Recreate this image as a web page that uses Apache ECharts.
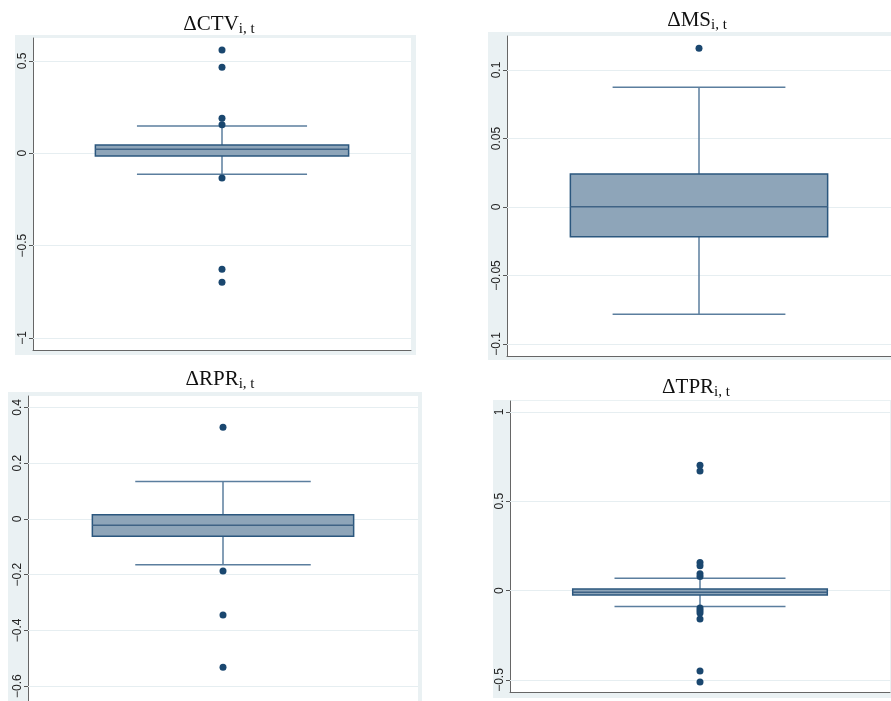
<!DOCTYPE html>
<html>
<head>
<meta charset="utf-8">
<script src="https://cdn.jsdelivr.net/npm/echarts@6/dist/echarts.min.js"></script>
<style>html,body{margin:0;padding:0;background:#fff;}#c{width:891px;height:701px;}</style>
</head>
<body>
<div id="c"></div>
<script>
// ---- data (box = [lower whisker, Q1, median, Q3, upper whisker]) ----
const categories = [''];
const ctvTitle = 'ΔCTV';
const ctvBox = [-0.114, -0.015, 0.022, 0.045, 0.148];
const ctvOut = [0.559, 0.466, 0.19, 0.155, -0.134, -0.628, -0.698];
const ctvTicks = [-1, -0.5, 0, 0.5];

const msTitle = 'ΔMS';
const msBox = [-0.0783, -0.0217, 0.0002, 0.0241, 0.0874];
const msOut = [0.1158];
const msTicks = [-0.1, -0.05, 0, 0.05, 0.1];

const rprTitle = 'ΔRPR';
const rprBox = [-0.164, -0.062, -0.023, 0.015, 0.134];
const rprOut = [0.329, -0.187, -0.345, -0.532];
const rprTicks = [-0.6, -0.4, -0.2, 0, 0.2, 0.4];

const tprTitle = 'ΔTPR';
const tprBox = [-0.088, -0.025, -0.0095, 0.009, 0.069];
const tprOut = [0.702, 0.670, 0.157, 0.140, 0.095, 0.079, -0.097, -0.111, -0.125, -0.159, -0.449, -0.511];
const tprTicks = [-0.5, 0, 0.5, 1];

const subscript = 'i, t';

// ---- layout / style ----
const panels = [
  {title: ctvTitle, box: ctvBox, out: ctvOut, ticks: ctvTicks, min: -1.065, max: 0.624,
   grid: {left: 33, top: 38, width: 378, height: 312}, bg: [15, 35, 401, 320], tx: 219, ty: 12},
  {title: msTitle, box: msBox, out: msOut, ticks: msTicks, min: -0.1088, max: 0.1248,
   grid: {left: 507, top: 36, width: 391, height: 320}, bg: [488, 32, 410, 328], tx: 697, ty: 8},
  {title: rprTitle, box: rprBox, out: rprOut, ticks: rprTicks, min: -0.653, max: 0.441,
   grid: {left: 28, top: 396, width: 390, height: 310}, bg: [8, 392, 414, 320], tx: 220, ty: 367},
  {title: tprTitle, box: tprBox, out: tprOut, ticks: tprTicks, min: -0.567, max: 1.061,
   grid: {left: 510, top: 401, width: 380, height: 291}, bg: [493, 400, 400, 298], tx: 696, ty: 375}
];

const BOX_W = 0.67, WHISK_W = 0.45;
const NAVY = '#1a476f', BOXFILL = '#8ea5b9', BOXLINE = '#2b577e', WHISK = '#5b7e9e', MED = '#3f6385';

function fmt(v) { return String(v).replace('-', '\u2212'); }

function boxRender(params, api) {
  const lo = api.value(1), q1 = api.value(2), md = api.value(3), q3 = api.value(4), hi = api.value(5);
  const band = api.size([1, 0])[0];
  const c = api.coord([0, md]);
  const x = c[0];
  const yQ1 = api.coord([0, q1])[1], yQ3 = api.coord([0, q3])[1];
  const yLo = api.coord([0, lo])[1], yHi = api.coord([0, hi])[1];
  const bh = band * BOX_W / 2, wh = band * WHISK_W / 2;
  const ws = {stroke: WHISK, lineWidth: 1.5};
  return {type: 'group', children: [
    {type: 'line', shape: {x1: x, y1: yHi, x2: x, y2: yQ3}, style: ws},
    {type: 'line', shape: {x1: x, y1: yQ1, x2: x, y2: yLo}, style: ws},
    {type: 'line', shape: {x1: x - wh, y1: yHi, x2: x + wh, y2: yHi}, style: ws},
    {type: 'line', shape: {x1: x - wh, y1: yLo, x2: x + wh, y2: yLo}, style: ws},
    {type: 'rect', shape: {x: x - bh, y: yQ3, width: 2 * bh, height: yQ1 - yQ3},
     style: {fill: BOXFILL, stroke: BOXLINE, lineWidth: 1.5}},
    {type: 'line', shape: {x1: x - bh, y1: c[1], x2: x + bh, y2: c[1]}, style: {stroke: MED, lineWidth: 1.5}}
  ]};
}

const option = {
  animation: false,
  backgroundColor: '#ffffff',
  graphic: panels.map(p => ({type: 'rect', z: -10, silent: true,
    shape: {x: p.bg[0], y: p.bg[1], width: p.bg[2], height: p.bg[3]},
    style: {fill: '#eaf1f3'}})),
  title: panels.map(p => ({
    text: '{m|' + p.title + '}{s|' + subscript + '}',
    left: p.tx, top: p.ty, textAlign: 'center', padding: 0,
    textStyle: {
      fontWeight: 'normal',
      rich: {
        m: {fontFamily: 'Liberation Serif', fontWeight: 'normal', fontSize: 21, color: '#111', lineHeight: 24},
        s: {fontFamily: 'Liberation Serif', fontWeight: 'normal', fontSize: 15, color: '#111', lineHeight: 10, padding: [11, 0, 0, 0]}
      }
    }
  })),
  grid: panels.map(p => Object.assign({show: true, backgroundColor: '#ffffff', borderWidth: 0}, p.grid)),
  xAxis: panels.map((p, i) => ({
    type: 'category', gridIndex: i, data: categories, boundaryGap: true,
    axisLine: {show: true, onZero: false, lineStyle: {color: '#666', width: 1}},
    axisTick: {show: false}, axisLabel: {show: false}, splitLine: {show: false}
  })),
  yAxis: panels.map((p, i) => ({
    type: 'value', gridIndex: i, min: p.min, max: p.max,
    axisLine: {show: true, onZero: false, lineStyle: {color: '#666', width: 1}},
    axisTick: {show: true, length: 4, customValues: p.ticks, lineStyle: {color: '#555'}},
    axisLabel: {show: true, customValues: p.ticks, rotate: 90, margin: 4, fontSize: 12,
      fontFamily: 'Liberation Sans', color: '#222', formatter: fmt},
    splitLine: {show: false}
  })),
  series: []
};

panels.forEach((p, i) => {
  option.series.push({
    type: 'line', xAxisIndex: i, yAxisIndex: i, data: [], z: 1, silent: true,
    markLine: {silent: true, z: 1, symbol: 'none', animation: false, label: {show: false},
      lineStyle: {color: '#e6eef1', width: 1, type: 'solid'},
      data: p.ticks.map(t => ({yAxis: t}))}
  });
  option.series.push({
    type: 'custom', xAxisIndex: i, yAxisIndex: i, z: 2, renderItem: boxRender,
    encode: {x: 0, y: [1, 2, 3, 4, 5]},
    data: [[0].concat(p.box)]
  });
  option.series.push({
    type: 'scatter', xAxisIndex: i, yAxisIndex: i, z: 3, symbolSize: 7,
    itemStyle: {color: NAVY, opacity: 1},
    data: p.out.map(v => [0, v])
  });
});

const chart = echarts.init(document.getElementById('c'), null, {renderer: 'canvas'});
chart.setOption(option);
</script>
</body>
</html>
